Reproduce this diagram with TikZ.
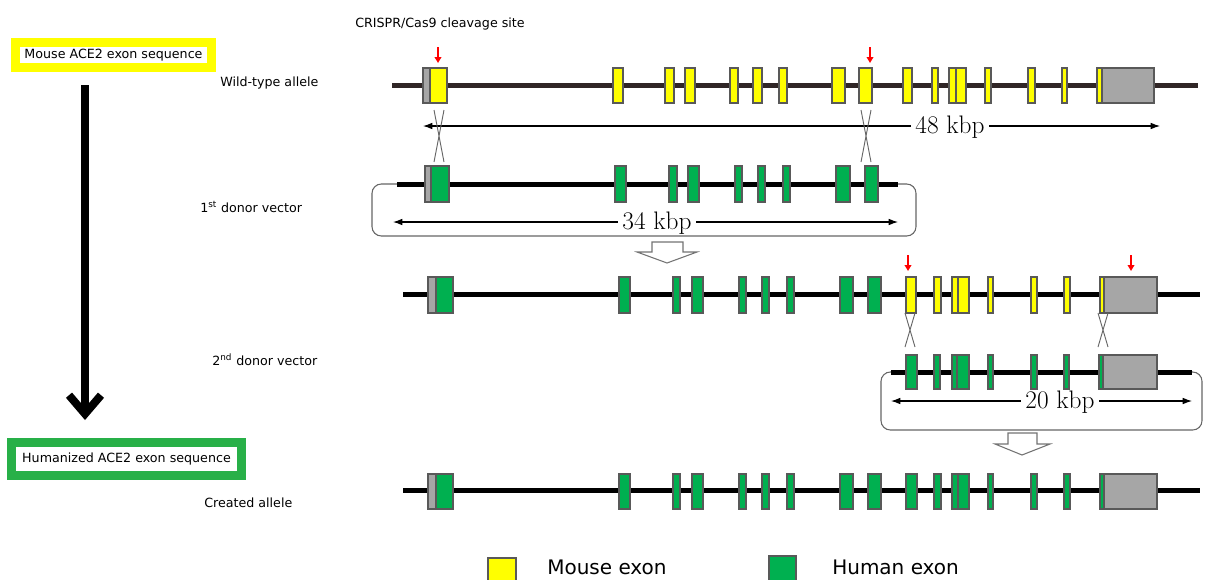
\documentclass[tikz,border=0pt]{standalone}
\usepackage{fontspec}
\usepackage{xcolor}
\usepackage{tikz}
\usetikzlibrary{arrows.meta}
\newfontfamily\labelfont{DejaVu Sans}
\definecolor{mouseyellow}{RGB}{255,255,0}
\definecolor{humangreen}{RGB}{0,176,80}
\definecolor{utrgrey}{RGB}{166,166,166}
\definecolor{wtline}{RGB}{48,38,38}
\definecolor{framegreen}{RGB}{40,176,72}

\begin{document}
\begin{tikzpicture}[
    x=0.75pt,
    y=-0.75pt,
    label/.style={
      font=\labelfont\fontsize{9.5}{11}\selectfont,
      anchor=west,
      inner sep=0pt
    },
    seqbox/.style={
      font=\labelfont\fontsize{9.5}{11}\selectfont,
      fill=white,
      line width=6.75pt,
      inner sep=0pt
    },
    legendtxt/.style={
      font=\labelfont\fontsize{15}{18}\selectfont,
      anchor=base west,
      inner sep=0pt
    },
    kbp/.style={font=\fontsize{19}{22}\selectfont, fill=white, inner xsep=3pt, inner ysep=0pt},
    chrom/.style={line width=3.75pt},
    mexon/.style={draw=black!65, fill=mouseyellow, line width=0.8pt},
    hexon/.style={draw=black!65, fill=humangreen, line width=0.8pt},
    utr/.style={draw=black!65, fill=utrgrey, line width=0.8pt},
    span/.style={draw, {Latex[length=7pt,width=5pt]}-{Latex[length=7pt,width=5pt]}, line width=0.8pt},
    vecbox/.style={draw=black!60, rounded corners=7pt, line width=0.8pt},
    cut/.style={draw=red, line width=1.2pt, -{Triangle[length=4.5pt,width=5pt]}},
    cross/.style={draw=black!60, line width=0.7pt},
    hollow/.style={draw=black!55, fill=white, line width=0.8pt},
    bigarrow/.style={draw, line width=6pt, -{Straight Barb[length=14pt,width=24pt]}},
]
    \useasboundingbox (0,0) rectangle (1212,579);
    \clip (0,0) rectangle (1212,579);

    % left side
    \node [seqbox, draw=mouseyellow, minimum width=147pt, minimum height=18.75pt] (mouseseq) at (113.5,55) {Mouse ACE2 exon sequence};
    \node [seqbox, draw=framegreen, minimum width=172.5pt, minimum height=24.75pt] (humanseq) at (126.5,459) {Humanized ACE2 exon sequence};
    \coordinate (arrtop) at (85,85);
    \coordinate (arrtip) at (85,420);
    \draw [bigarrow] (arrtop) -- (arrtip);

    \node [label] (cutlabel) at (355,24) {CRISPR/Cas9 cleavage site};
    \node [label] (wtlabel) at (220,83) {Wild-type allele};
    \node [label] (donor1label) at (200,207) {1\textsuperscript{st} donor vector};
    \node [label] (donor2label) at (212,360) {2\textsuperscript{nd} donor vector};
    \node [label] (newlabel) at (204,503) {Created allele};

    % wild-type allele
    \draw [chrom, wtline] (392,85) -- (1198,85);
    \draw [utr] (423,68) rectangle (430,103);
    \foreach \a/\b in {430/447, 613/623, 665/674, 685/695, 730/738, 753/762, 779/787, 832/845, 859/872,
        903/912, 932/938, 949/956, 956/966, 985/991, 1028/1035, 1062/1067, 1097/1102}
      \draw [mexon] (\a,68) rectangle (\b,103);
    \draw [utr] (1102,68) rectangle (1154,103);
    \draw [cut] (438,47) -- (438,63);
    \draw [cut] (870,47) -- (870,63);

    \coordinate (wtL) at (423,126);
    \coordinate (wtR) at (1160,126);
    \draw [span] (wtL) -- (wtR);
    \node [kbp] (wtlen) at (950,127.5) {48 kbp};
    \draw [cross] (434,110) -- (444,162) (444,110) -- (434,162);
    \draw [cross] (861,110) -- (871,162) (871,110) -- (861,162);

    % 1st donor vector
    \draw [vecbox] (372,184) rectangle (916,236);
    \draw [chrom] (397,184) -- (898,184);
    \draw [utr] (425,166) rectangle (431,202);
    \foreach \a/\b in {431/449, 615/626, 669/677, 688/699, 735/742, 758/765, 783/790, 836/850, 865/878}
      \draw [hexon] (\a,166) rectangle (\b,202);
    \coordinate (d1L) at (393,222);
    \coordinate (d1R) at (898,222);
    \draw [span] (d1L) -- (d1R);
    \node [kbp] (d1len) at (657,223.5) {34 kbp};

    \draw [hollow] (652,242) -- (683,242) -- (683,252) -- (697,252) -- (667,263) -- (637,252) -- (652,252) -- cycle;

    % intermediate allele
    \draw [chrom] (403,294) -- (1200,294);
    \draw [utr] (428,277) rectangle (436,313);
    \foreach \a/\b in {436/453, 619/630, 673/680, 692/703, 739/746, 762/769, 787/794, 840/853, 868/881}
      \draw [hexon] (\a,277) rectangle (\b,313);
    \foreach \a/\b in {906/916, 934/941, 952/958, 958/969, 988/993, 1031/1037, 1064/1070, 1100/1104}
      \draw [mexon] (\a,277) rectangle (\b,313);
    \draw [utr] (1104,277) rectangle (1157,313);
    \draw [cut] (908,255) -- (908,271);
    \draw [cut] (1131,255) -- (1131,271);
    \draw [cross] (905,313) -- (915,347) (915,313) -- (905,347);
    \draw [cross] (1098,313) -- (1108,347) (1108,313) -- (1098,347);

    % 2nd donor vector
    \draw [vecbox] (881,372) rectangle (1202,430);
    \draw [chrom] (891,372) -- (1192,372);
    \foreach \a/\b in {906/917, 934/940, 952/957, 957/969, 988/993, 1031/1037, 1064/1069, 1099/1103}
      \draw [hexon] (\a,355) rectangle (\b,389);
    \draw [utr] (1103,355) rectangle (1157,389);
    \coordinate (d2L) at (891,401);
    \coordinate (d2R) at (1192,401);
    \draw [span] (d2L) -- (d2R);
    \node [kbp] (d2len) at (1060,402.5) {20 kbp};

    \draw [hollow] (1008,433) -- (1037,433) -- (1037,444) -- (1050,444) -- (1022,455) -- (995,444) -- (1008,444) -- cycle;

    % created allele
    \draw [chrom] (403,490) -- (1200,490);
    \draw [utr] (428,474) rectangle (436,509);
    \foreach \a/\b in {436/453, 619/630, 673/680, 692/703, 739/746, 762/769, 787/794, 840/853, 868/881,
        906/917, 934/941, 952/958, 958/969, 988/993, 1031/1037, 1064/1070, 1100/1104}
      \draw [hexon] (\a,474) rectangle (\b,509);
    \draw [utr] (1104,474) rectangle (1157,509);

    % legend
    \draw [mexon] (488,558) rectangle (516,586);
    \node [legendtxt] (mouselegend) at (547,574) {Mouse exon};
    \draw [hexon] (769,556) rectangle (796,584);
    \node [legendtxt] (humanlegend) at (832,574) {Human exon};
\end{tikzpicture}
\end{document}
